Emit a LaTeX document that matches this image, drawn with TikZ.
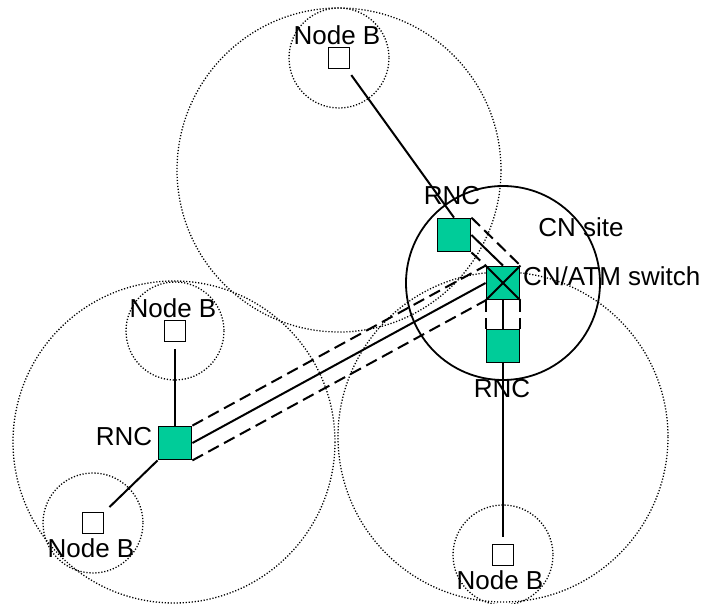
\documentclass[tikz,border=0pt]{standalone}
\usepackage{fontspec}
\setmainfont{Liberation Sans}
\usepackage{tikz}
\definecolor{rncgreen}{HTML}{00CC99}
\tikzset{
  cell/.style={line width=1.3pt, dash pattern=on 1.2pt off 1.8pt},
  site/.style={line width=1.8pt},
  nodeb/.style={draw, line width=1.8pt, fill=white, minimum size=21pt, inner sep=0pt},
  rnc/.style={draw, line width=1.8pt, fill=rncgreen, minimum size=33pt, inner sep=0pt},
  txt/.style={anchor=base, inner sep=0pt, font=\fontsize{26}{31}\selectfont},
  link/.style={line width=2pt},
  trunk/.style={line width=2pt, dash pattern=on 12pt off 6pt},
}

\begin{document}
\begin{tikzpicture}[x=1pt, y=-1pt]
  \useasboundingbox (0,0) rectangle (707,604);

  \draw[cell] (339,170) circle[radius=162];
  \draw[cell] (174,442) circle[radius=161];
  \draw[cell] (503,437) circle[radius=165];
  \draw[cell] (339,58) circle[radius=50];
  \draw[cell] (175,331) circle[radius=49];
  \draw[cell] (93,523) circle[radius=50];
  \draw[cell] (503,555) circle[radius=50];

  \node[nodeb] (nbt) at (339,58) {};
  \node[nodeb] (nbl) at (175,331) {};
  \node[nodeb] (nbs) at (93,523) {};
  \node[nodeb] (nbb) at (503,555) {};
  \node[rnc] (rt) at (454,235) {};
  \node[rnc] (sw) at (503,283) {};
  \node[rnc] (rb) at (503,346) {};
  \node[rnc] (rl) at (175,443) {};

  \draw[site] (sw.center) circle[radius=97];

  \node[txt] (lnbt) at (337,45) {Node B};
  \node[txt] (lnbl) at (173,317) {Node B};
  \node[txt] (lnbs) at (91,557) {Node B};
  \node[txt] (lnbb) at (500,589) {Node B};
  \node[txt] (lrt) at (452,205) {RNC};
  \node[txt] (lrl) at (124,445) {RNC};
  \node[txt] (lrb) at (502,397) {RNC};
  \node[txt] (lsite) at (581,237) {CN site};
  \node[txt, anchor=base west] (lsw) at (523,285) {CN/ATM switch};

  \draw[link, shorten <=7pt] (nbt) -- (rt.north);
  \draw[link, shorten <=7pt] (nbl) -- (rl);
  \draw[link, shorten <=7pt] (nbs) -- (rl.south west);
  \draw[link, shorten <=7pt] (nbb) -- (rb);

  \draw[link] (rt.east) -- (sw.north);
  \draw[trunk] (rt.north east) -- (sw.north east);
  \draw[trunk] (rt.south east) -- (sw.north west);
  \draw[link] (sw.south) -- (rb.north);
  \draw[trunk] (sw.south west) -- (rb.north west);
  \draw[trunk] (sw.south east) -- (rb.north east);
  \draw[link] (rl.east) -- (sw.west);
  \draw[trunk] (rl.north east) -- (sw.north west);
  \draw[trunk] (rl.south east) -- (sw.south west);
  \draw[link] (sw.north west) -- (sw.south east);
  \draw[link] (sw.north east) -- (sw.south west);
\end{tikzpicture}
\end{document}
